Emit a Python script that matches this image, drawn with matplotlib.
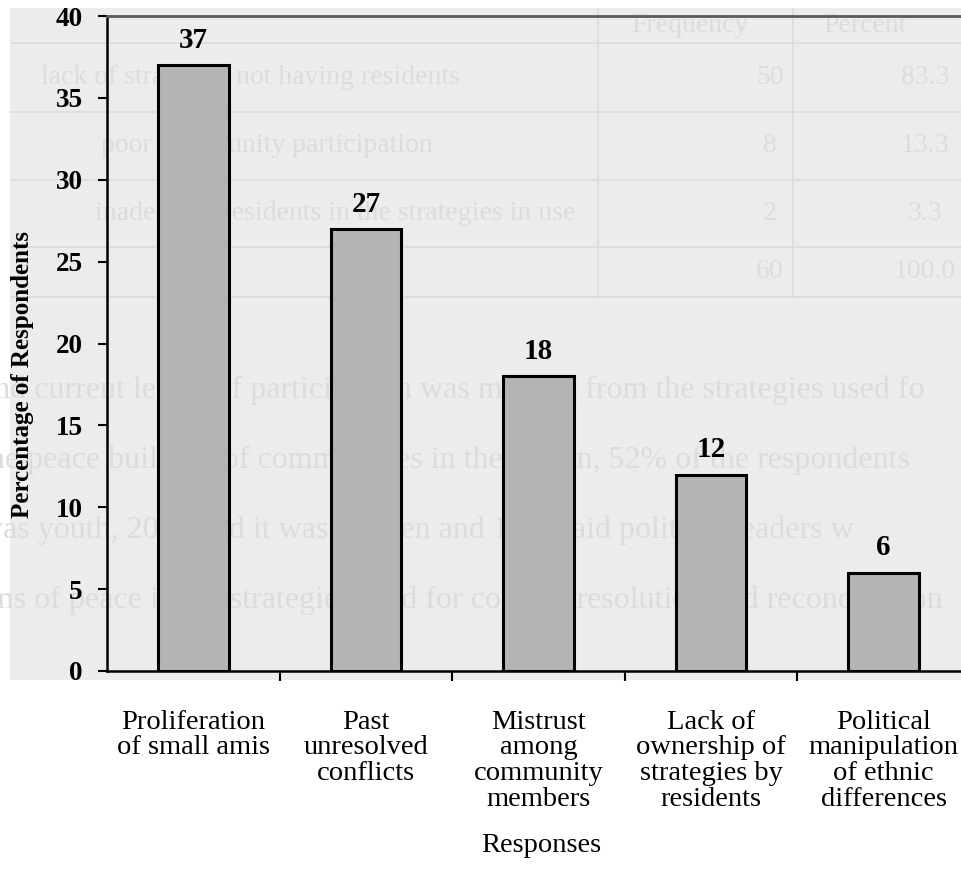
import matplotlib
matplotlib.use("Agg")
import matplotlib.pyplot as plt
import numpy as np

# ---------------------------------------------------------------- data
categories = ["Proliferation\nof small amis",
              "Past\nunresolved\nconflicts",
              "Mistrust\namong\ncommunity\nmembers",
              "Lack of\nownership of\nstrategies by\nresidents",
              "Political\nmanipulation\nof ethnic\ndifferences"]
percentages = [37, 27, 18, 12, 6]
y_ticks = [0, 5, 10, 15, 20, 25, 30, 35, 40]

# faint print showing through the scanned page
ghost_rows = ["lack of strategies not having residents",
              "poor community participation",
              "inadequate residents in the strategies in use"]
ghost_freq = ["50", "8", "2", "60"]
ghost_pct = ["83.3", "13.3", "3.3", "100.0"]
ghost_lines = ["and current levels of participation was missing from the strategies used fo",
               "the peace building of communities in the region, 52% of the respondents",
               "was youth, 20% said it was women and 17% said political leaders w",
               "ims of peace in the strategies used for conflict resolution and reconciliation"]

plt.rcParams['font.family'] = ['Liberation Serif', 'DejaVu Serif']

W, H = 962, 869
fig = plt.figure(figsize=(W / 100, H / 100), dpi=100)
fig.patch.set_facecolor('white')

# ---------------------------------------------------------------- grey page background
bg = fig.add_axes([10 / W, 1 - 680 / H, (W - 10) / W, 672 / H], zorder=0)
bg.set_facecolor('#ececec')
bg.set_xlim(10, W)
bg.set_ylim(680, 8)
bg.set_xticks([])
bg.set_yticks([])
for s in bg.spines.values():
    s.set_visible(False)

ghost = '#dcdcdc'
for yy in [43, 112, 180, 247, 297]:
    bg.axhline(yy, color=ghost, lw=1.2)
for xx in [598, 793]:
    bg.plot([xx, xx], [8, 297], color=ghost, lw=1.2)
bg.text(690, 26, "Frequency", color=ghost, fontsize=20, ha='center', va='center')
bg.text(865, 26, "Percent", color=ghost, fontsize=20, ha='center', va='center')
for i, yy in enumerate([78, 146, 213, 272]):
    bg.text(770, yy, ghost_freq[i], color=ghost, fontsize=20, ha='center', va='center')
    bg.text(925, yy, ghost_pct[i], color=ghost, fontsize=20, ha='center', va='center')
for i, yy in enumerate([78, 146, 213]):
    bg.text([460, 433, 575][i], yy, ghost_rows[i], color=ghost, fontsize=20,
            ha='right', va='center')
for i, yy in enumerate([390, 460, 530, 600]):
    bg.text(-20, yy, ghost_lines[i], color=ghost, fontsize=23, ha='left', va='center')

# ---------------------------------------------------------------- bar chart
ax = fig.add_axes([107 / W, 1 - 671 / H, 863 / W, 655 / H], zorder=2)
ax.set_facecolor('none')

x = np.arange(len(categories))
bars = ax.bar(x, percentages, width=0.41, color='#b4b4b4', edgecolor='black', linewidth=2.2)

for b, v in zip(bars, percentages):
    ax.annotate(str(v), (b.get_x() + b.get_width() / 2, v), xytext=(0, 12.5),
                textcoords='offset points', ha='center', va='baseline',
                fontsize=21, fontweight='bold')

ax.set_xlim(-0.5, len(categories) - 0.5)
ax.set_ylim(0, 40)
ax.set_yticks(y_ticks)
ax.set_yticklabels([str(t) for t in y_ticks], fontsize=19.5, fontweight='bold')
ax.tick_params(axis='y', direction='out', length=6.5, width=1.5, pad=11)

ax.set_xticks(x)
ax.set_xticklabels(categories, fontsize=20.5, linespacing=1.03, va='top')
ax.tick_params(axis='x', which='major', length=0, pad=28)
ax.set_xticks(x[:-1] + 0.5, minor=True)
ax.tick_params(axis='x', which='minor', direction='out', length=7, width=1.5)

ax.spines['right'].set_visible(False)
ax.spines['left'].set_linewidth(1.8)
ax.spines['bottom'].set_linewidth(1.8)
ax.spines['top'].set_color('#5a5a5a')
ax.spines['top'].set_linewidth(2.0)

fig.text(23 / W, 1 - 375 / H, "Percentage of Respondents", rotation=90,
         fontsize=18, fontweight='bold', ha='center', va='center')
fig.text(541 / W, 1 - 846 / H, "Responses", fontsize=20.5, ha='center', va='center')

fig.savefig('out.png', dpi=100)
